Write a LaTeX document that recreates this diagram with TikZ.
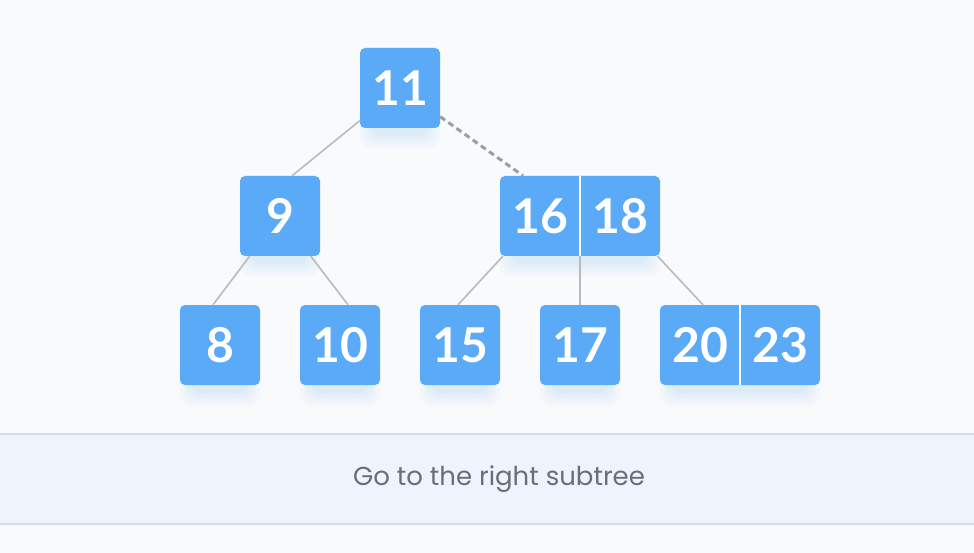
\documentclass[tikz,border=0pt]{standalone}
\usepackage{fontspec}
\setmainfont{Lato}
\newfontfamily\capfont{Poppins}
\definecolor{boxblue}{HTML}{5BAAF7}
\definecolor{bgc}{HTML}{F9FAFC}
\definecolor{bandc}{HTML}{EFF3FB}
\definecolor{bandline}{HTML}{D6DCE5}
\definecolor{edgec}{HTML}{BABABA}
\definecolor{dashc}{HTML}{9E9E9E}
\definecolor{capc}{HTML}{6C6C7C}
\pgfdeclarelayer{bglayer}
\pgfdeclarelayer{shadowlayer}
\pgfsetlayers{bglayer,shadowlayer,main}
\begin{document}
\begin{tikzpicture}[x=1pt,y=-1pt,
  onekey/.style={fill=boxblue, rounded corners=5pt, minimum width=80pt, minimum height=80pt, inner sep=0pt, text=white, font=\fontsize{48}{48}\selectfont\bfseries},
  twokey/.style={fill=boxblue, rounded corners=5pt, minimum width=160pt, minimum height=80pt, inner sep=0pt},
  halfkey/.style={minimum width=80pt, minimum height=80pt, inner sep=0pt, text=white, font=\fontsize{48}{48}\selectfont\bfseries},
  softshadow/.style={fill=boxblue, opacity=0.035, rounded corners=10pt},
  divider/.style={draw=white, line width=1.5pt},
  edge/.style={draw=edgec, line width=1.6pt},
  dashedge/.style={draw=dashc, line width=3pt, dash pattern=on 6pt off 4pt},
  caption/.style={text=capc, font=\capfont\fontsize{26}{26}\selectfont, inner sep=0pt}
]
\useasboundingbox (0,0) rectangle (974,553);
\begin{pgfonlayer}{bglayer}
\fill[bgc] (0,0) rectangle (974,553);
\fill[bandc] (0,434) rectangle (974,524);
\draw[bandline, line width=1.5pt] (0,434) -- (974,434);
\draw[bandline, line width=1.5pt] (0,524) -- (974,524);
\end{pgfonlayer}
\node[caption] (cap) at (499,479) {Go to the right subtree};

% nodes
\node[onekey] (n11) at (400,88) {11};
\node[onekey] (n9) at (280,216) {9};
\node[twokey] (n1618) at (580,216) {};
\node[halfkey] (k16) at (540,216) {16};
\node[halfkey] (k18) at (620,216) {18};
\draw[divider] (n1618.north) -- (n1618.south);

\node[onekey] (n8) at (220,345) {8};
\node[onekey] (n10) at (340,345) {10};
\node[onekey] (n15) at (460,345) {15};
\node[onekey] (n17) at (580,345) {17};
\node[twokey] (n2023) at (740,345) {};
\node[halfkey] (k20) at (700,345) {20};
\node[halfkey] (k23) at (780,345) {23};
\draw[divider] (n2023.north) -- (n2023.south);

% soft shadows below the boxes
\begin{pgfonlayer}{shadowlayer}
\foreach \b in {n11,n9,n1618,n8,n10,n15,n17,n2023}{
  \foreach \r in {-6,-3,0,3,6}{
    \fill[softshadow] ([xshift=6pt-\r pt, yshift=-14pt-\r pt]\b.south west) rectangle ([xshift=-6pt+\r pt, yshift=-14pt]\b.north east);
  }
}
\end{pgfonlayer}

% connectors
\draw[edge] (n11) -- ([xshift=12pt]n9.north);
\draw[dashedge] (n11) -- ([xshift=-57pt]n1618.north);
\draw[edge] (n9) -- ([xshift=-7pt]n8.north);
\draw[edge] (n9) -- ([xshift=8pt]n10.north);
\draw[edge] (k16) -- ([xshift=-2pt]n15.north);
\draw[edge] (n1618.south) -- (n17.north);
\draw[edge] (k18) -- ([xshift=3pt]k20.north);
\end{tikzpicture}
\end{document}
